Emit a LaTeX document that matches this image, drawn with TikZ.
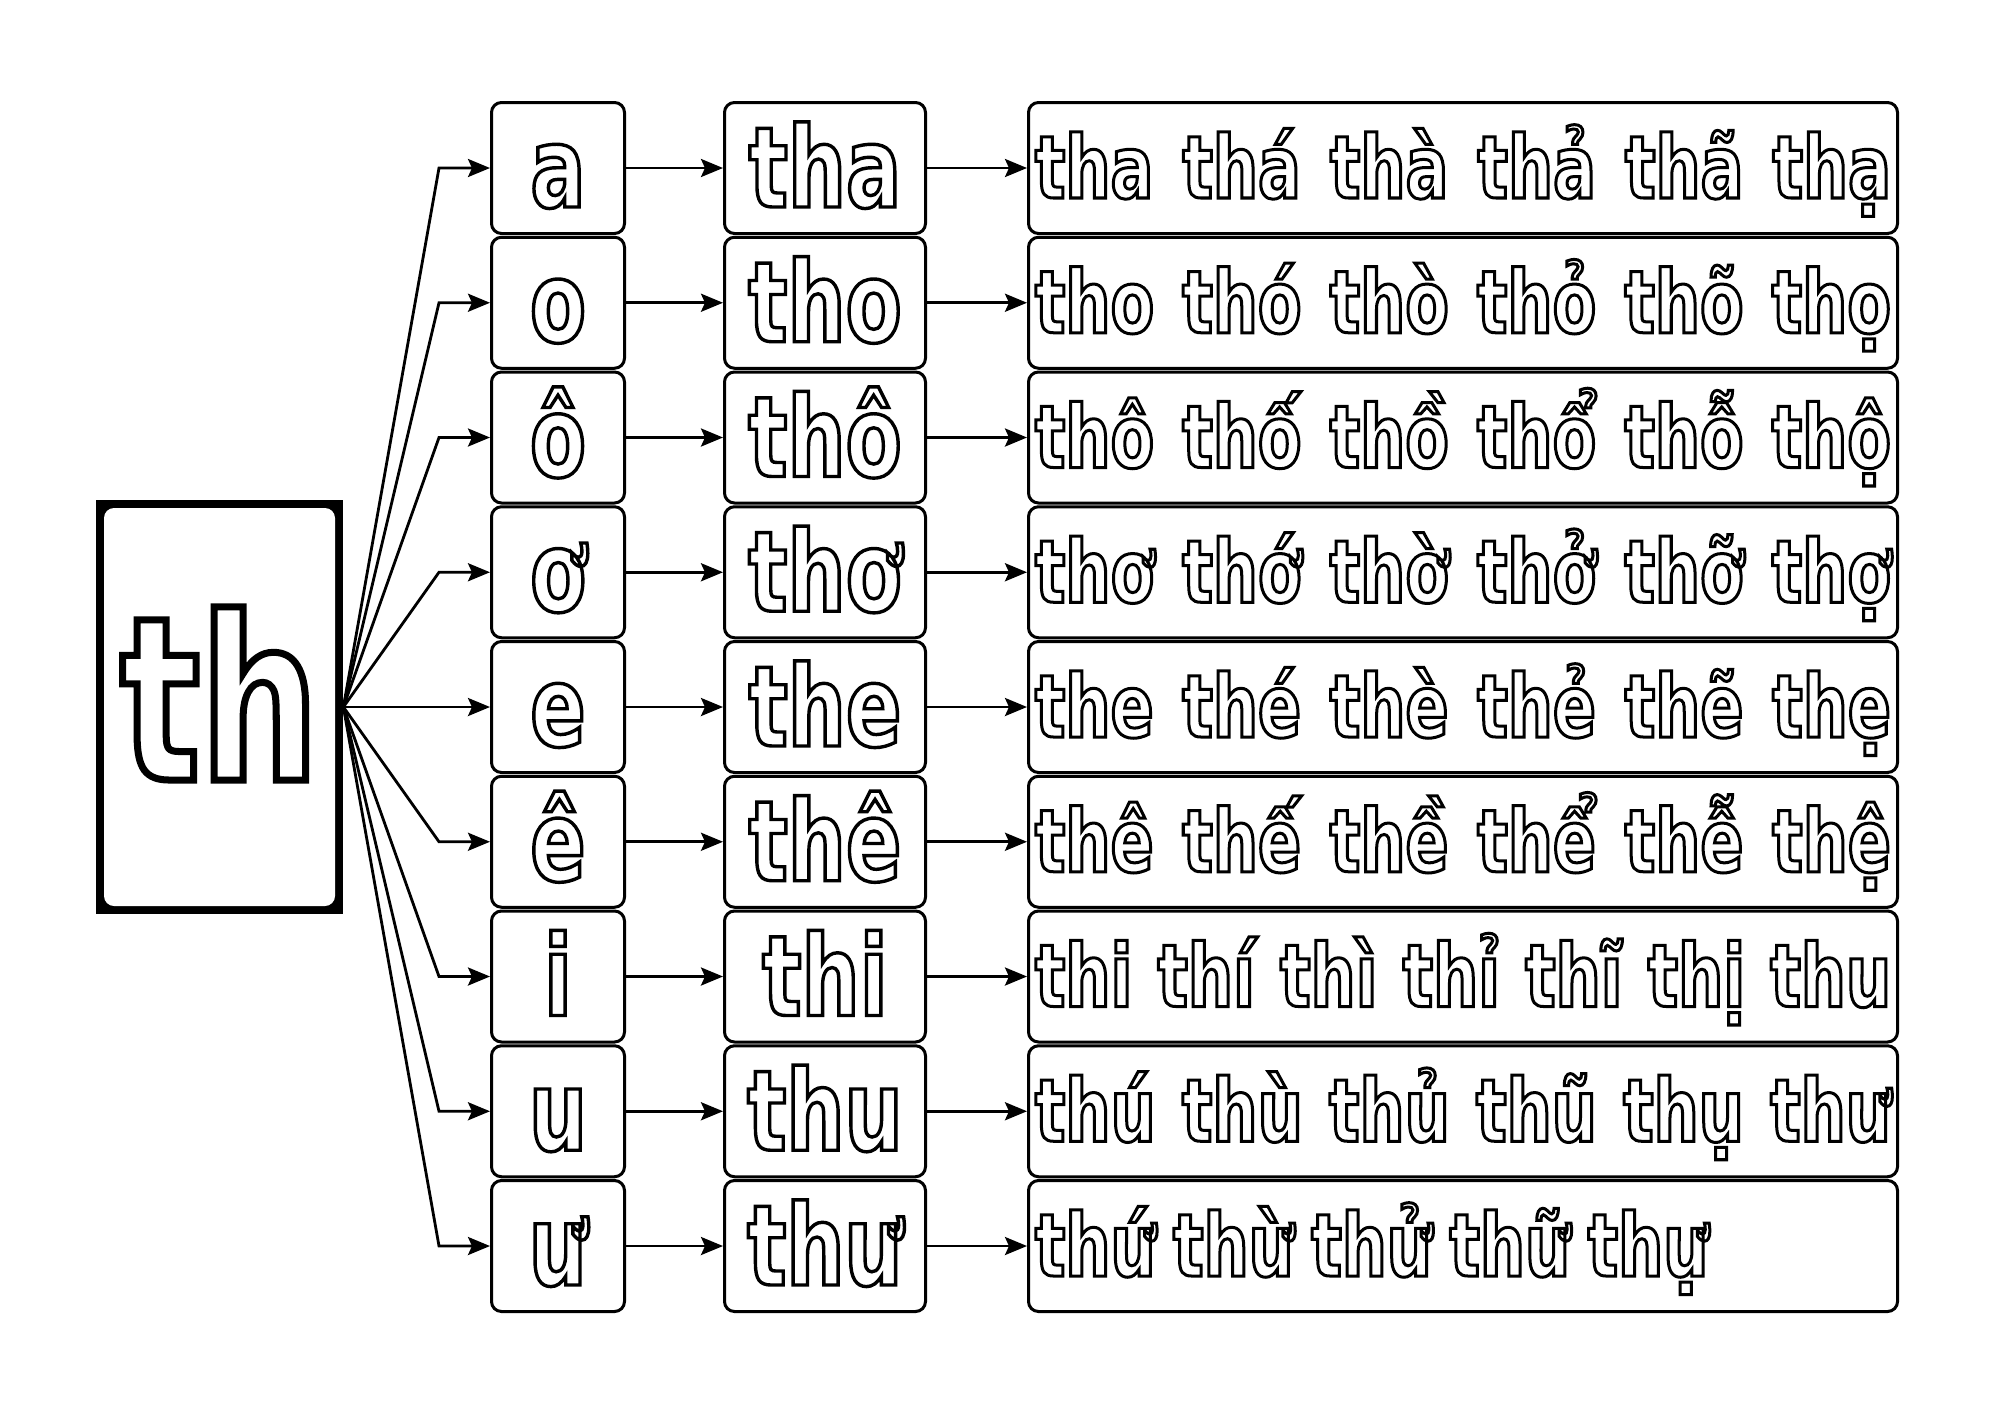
\documentclass[tikz,border=0pt]{standalone}
\usepackage{fontspec}
\usepackage{tikz}
\usetikzlibrary{calc,arrows.meta}
\newfontfamily\hollowfont[FakeStretch=0.73]{DejaVu Sans}
\definecolor{ink}{HTML}{000000}
\definecolor{paper}{HTML}{FFFFFF}
\newcommand\wordline[1]{\hbox to 428pt{\spaceskip=0.25em plus 1fill\relax #1}}
\tikzset{
  hollow/.style={execute at begin node={\special{pdf:literal direct 1 Tr #1 w}},
                 execute at end node={\special{pdf:literal direct 0 Tr}}},
  box/.style={draw=ink, line width=1.5pt, rounded corners=5pt, fill=paper, inner sep=0pt, minimum height=65.5pt},
  vbox/.style={box, minimum width=66.5pt, text height=42pt, text depth=3pt,
               font=\hollowfont\bfseries\fontsize{56}{60}\selectfont, hollow=1.7},
  sbox/.style={vbox, minimum width=100.5pt},
  wbox/.style={box, minimum width=434.5pt, text height=33pt, text depth=3pt,
               font=\hollowfont\bfseries\fontsize{43.5}{48}\selectfont, hollow=1.5},
  thbox/.style={fill=ink, inner sep=0pt, minimum width=123.5pt, minimum height=207pt,
               text height=76pt, text depth=3pt, font=\hollowfont\bfseries\fontsize{114}{120}\selectfont, hollow=3.5,
               path picture={\fill[paper, rounded corners=5pt]
                 ($(path picture bounding box.south west)+(4pt,4pt)$) rectangle
                 ($(path picture bounding box.north east)+(-4pt,-4pt)$);}},
  arr/.style={draw=ink, line width=1.4pt, -{Stealth[length=11pt,width=9pt,inset=2pt]}}
}
\begin{document}
\begin{tikzpicture}[x=0.5pt, y=-0.5pt]
  \useasboundingbox (0,0) rectangle (2000,1414);

  \node[thbox] (th) at (219.5,707) {th};

  \foreach \i/\v/\s/\w in {
      0/a/tha/{tha thá thà thả thã thạ},
      1/o/tho/{tho thó thò thỏ thõ thọ},
      2/ô/thô/{thô thố thồ thổ thỗ thộ},
      3/ơ/thơ/{thơ thớ thờ thở thỡ thợ},
      4/e/the/{the thé thè thẻ thẽ thẹ},
      5/ê/thê/{thê thế thề thể thễ thệ},
      6/i/thi/{thi thí thì thỉ thĩ thị thu},
      7/u/thu/{thú thù thủ thũ thụ thư},
      8/ư/thư/{\spaceskip=0.2em\relax thứ thừ thử thữ thự\hskip 0pt plus 1filll}}{
    \pgfmathsetmacro\y{168+134.75*\i}
    \node[vbox] (v\i) at (558,\y) {\v};
    \node[sbox] (s\i) at (825,\y) {\s};
    \node[wbox] (w\i) at (1463,\y) {\wordline{\w}};
    \coordinate (k\i) at (439,\y);
    \draw[arr] (th.east) -- (k\i) -- (v\i.west);
    \draw[arr] (v\i) -- (s\i);
    \draw[arr] (s\i) -- (w\i);
  }
\end{tikzpicture}
\end{document}
